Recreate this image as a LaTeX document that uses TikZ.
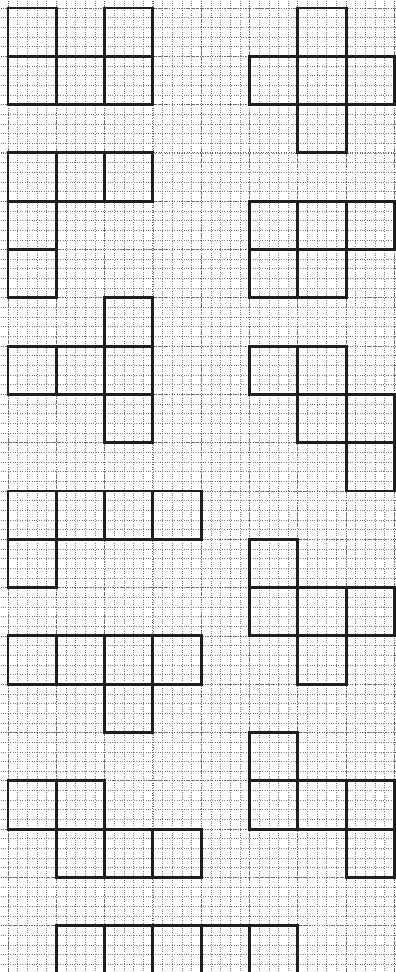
\documentclass[tikz,border=0pt]{standalone}
\usepackage{tikz}
\definecolor{papergrid}{HTML}{7A7A7A}
\definecolor{penline}{HTML}{1E1E1E}

\begin{document}
\begin{tikzpicture}[x=1cm,y=-1cm,
  minor/.style={papergrid,line width=0.4pt,densely dotted},
  major/.style={papergrid!80!black,line width=0.5pt,densely dotted},
  sq/.style={draw=penline,line width=1.7pt}]
  \useasboundingbox (-0.166,-0.166) rectangle (8.012,19.958);
  \fill[white] (-0.166,-0.166) rectangle (8.012,19.958);
  % graph paper, 5 small cells per big square
  \foreach \i in {-1,...,41} \draw[minor] (\i*0.2,-0.2) -- (\i*0.2,20.2);
  \foreach \j in {-1,...,101} \draw[minor] (-0.2,\j*0.2) -- (8.2,\j*0.2);
  \foreach \i in {0,...,8} \draw[major] (\i,-0.2) -- (\i,20.2);
  \foreach \j in {0,...,20} \draw[major] (-0.2,\j) -- (8.2,\j);
  % the twelve pentominoes, column/row of each square
  \foreach \c/\r in {0/0,2/0,0/1,1/1,2/1,      % U
                     6/0,5/1,6/1,7/1,6/2,      % X
                     0/3,1/3,2/3,0/4,0/5,      % V
                     5/4,6/4,7/4,5/5,6/5,      % P
                     2/6,0/7,1/7,2/7,2/8,      % T
                     5/7,6/7,6/8,7/8,7/9,      % W
                     0/10,1/10,2/10,3/10,0/11, % L
                     5/11,5/12,6/12,7/12,6/13, % F
                     0/13,1/13,2/13,3/13,2/14, % Y
                     5/15,5/16,6/16,7/16,7/17, % Z
                     0/16,1/16,1/17,2/17,3/17, % N
                     1/19,2/19,3/19,4/19,5/19} % I
    \draw[sq] (\c,\r) rectangle ++(1,1);
\end{tikzpicture}
\end{document}
